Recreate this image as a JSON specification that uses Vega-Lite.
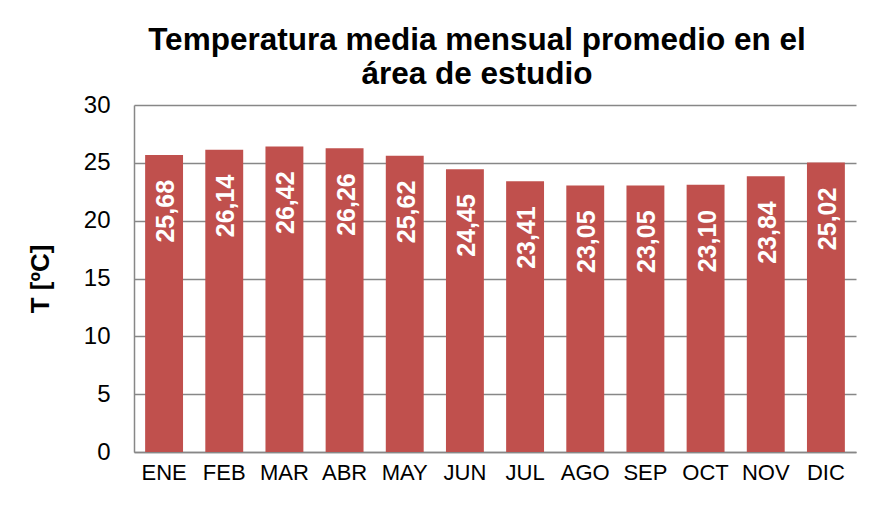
{
  "$schema": "https://vega.github.io/schema/vega-lite/v6.json",
  "width": 722,
  "height": 347,
  "autosize": {"type": "none"},
  "padding": {"left": 134, "top": 105, "right": 17, "bottom": 62},
  "background": "white",
  "title": {
    "text": ["Temperatura media mensual promedio en el", "área de estudio"],
    "font": "Liberation Sans",
    "fontSize": 31.5,
    "fontWeight": "bold",
    "color": "black",
    "lineHeight": 34,
    "anchor": "middle",
    "dx": -18,
    "offset": 3
  },
  "data": {
    "values": [
      {"mes": "ENE", "t": 25.68},
      {"mes": "FEB", "t": 26.14},
      {"mes": "MAR", "t": 26.42},
      {"mes": "ABR", "t": 26.26},
      {"mes": "MAY", "t": 25.62},
      {"mes": "JUN", "t": 24.45},
      {"mes": "JUL", "t": 23.41},
      {"mes": "AGO", "t": 23.05},
      {"mes": "SEP", "t": 23.05},
      {"mes": "OCT", "t": 23.10},
      {"mes": "NOV", "t": 23.84},
      {"mes": "DIC", "t": 25.02}
    ]
  },
  "encoding": {
    "x": {
      "field": "mes",
      "type": "nominal",
      "sort": null,
      "scale": {"paddingInner": 0.37, "paddingOuter": 0.185},
      "axis": {
        "title": null,
        "labelAngle": 0,
        "labelFont": "Liberation Sans",
        "labelFontSize": 22,
        "labelColor": "black",
        "labelPadding": 10,
        "ticks": false,
        "domainColor": "#878787",
        "domainWidth": 1.5,
        "grid": false
      }
    },
    "y": {
      "field": "t",
      "type": "quantitative",
      "scale": {"domain": [0, 30], "nice": false},
      "axis": {
        "title": "T [ºC]",
        "titleFont": "Liberation Sans",
        "titleFontSize": 26,
        "titleFontWeight": "bold",
        "titleColor": "black",
        "titlePadding": 30,
        "values": [0, 5, 10, 15, 20, 25, 30],
        "labelFont": "Liberation Sans",
        "labelFontSize": 24,
        "labelColor": "black",
        "labelPadding": 24,
        "ticks": false,
        "domainColor": "#878787",
        "domainWidth": 1.5,
        "grid": true,
        "gridColor": "#878787",
        "gridWidth": 1.5
      }
    }
  },
  "layer": [
    {"mark": {"type": "bar", "color": "#C0504D"}},
    {
      "mark": {
        "type": "text",
        "angle": -90,
        "align": "right",
        "baseline": "middle",
        "dx": -25,
        "dy": 2,
        "font": "Liberation Sans",
        "fontSize": 25,
        "fontWeight": "bold",
        "color": "white"
      },
      "encoding": {
        "text": {"field": "t", "type": "quantitative", "format": ".2f"}
      }
    }
  ],
  "config": {
    "view": {"stroke": null},
    "locale": {
      "number": {"decimal": ",", "thousands": ".", "grouping": [3], "currency": ["", "€"]}
    }
  }
}
